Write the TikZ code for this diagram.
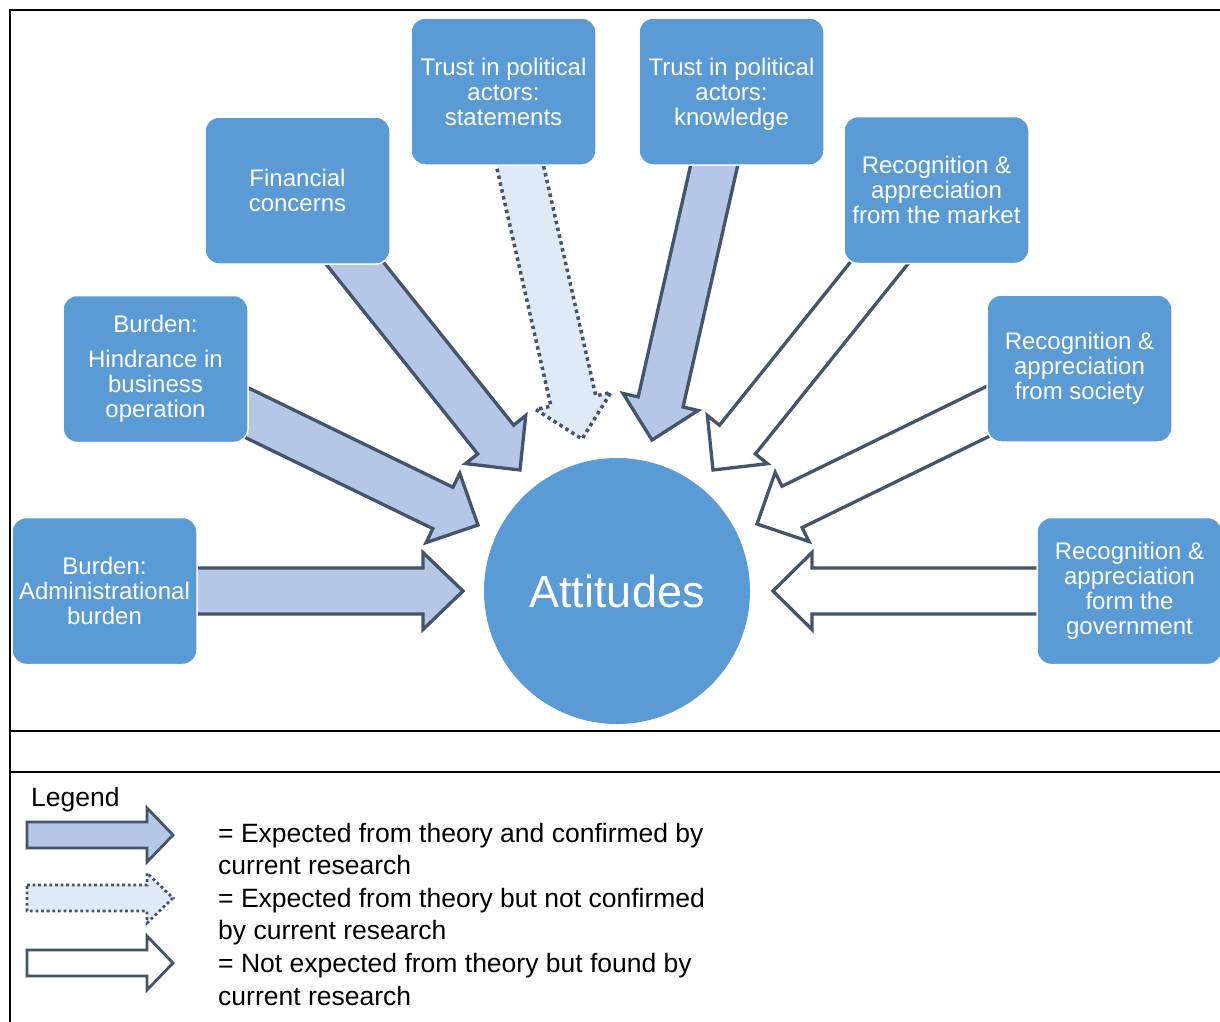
\documentclass[tikz,border=0pt]{standalone}
\usepackage{fontspec}
\setmainfont{Liberation Sans}
\usetikzlibrary{calc}

\definecolor{boxblue}{HTML}{5B9BD5}
\definecolor{arrowfill}{HTML}{B4C7E7}
\definecolor{dotfill}{HTML}{DEEBF7}
\definecolor{arrowline}{HTML}{44546A}

% block arrow: [style]{from}{to}{shaft half-width}{head half-width}{head length}
\newcommand\blockarrow[6][]{%
  \draw[#1] ($(#2)!#4!90:(#3)$)
    -- ($(#3)!#6!(#2)!#4!90:(#3)$)
    -- ($(#3)!#6!(#2)!#5!90:(#3)$)
    -- (#3)
    -- ($(#3)!#6!(#2)!#5!-90:(#3)$)
    -- ($(#3)!#6!(#2)!#4!-90:(#3)$)
    -- ($(#2)!#4!-90:(#3)$) -- cycle;}

\tikzset{
  factor/.style={draw=white, line width=1.5pt, fill=boxblue, rounded corners=14pt,
    minimum width=185pt, minimum height=147pt, align=center, text=white,
    font=\fontsize{24}{25}\selectfont, inner sep=0pt},
  core/.style={circle, fill=boxblue, minimum size=266pt, inner sep=0pt, text=white,
    font=\fontsize{45}{50}\selectfont},
  confirmed/.style={fill=arrowfill, draw=arrowline, line width=3.3pt, line join=miter},
  unconfirmed/.style={fill=dotfill, draw=arrowline, line width=3.5pt, dash pattern=on 3.5pt off 3.5pt},
  unexpected/.style={fill=white, draw=arrowline, line width=3.3pt, line join=miter},
  legtext/.style={anchor=base west, inner sep=0pt, font=\fontsize{26.5}{33}\selectfont}
}

\begin{document}
\begin{tikzpicture}[x=1pt, y=-1pt]
\useasboundingbox (0,0) rectangle (1220,1021);
\fill[white] (0,0) rectangle (1220,1021);

% frame
\draw[line width=2pt] (1235,10) -- (10,10) -- (10,731) -- (1235,731);
\draw[line width=1.3pt] (10,731) -- (10,1030);
\draw[line width=1.3pt] (10,772) -- (1235,772);

% arrow end points
\coordinate (a1s) at (190,591);     \coordinate (a1t) at (463,591);
\coordinate (a2s) at (231,405);     \coordinate (a2t) at (478,525);
\coordinate (a3s) at (341,246);     \coordinate (a3t) at (520,470);
\coordinate (a4s) at (515,144);     \coordinate (a4t) at (582,439);
\coordinate (a5s) at (719,144);     \coordinate (a5t) at (652,440);
\coordinate (a6s) at (892,247);     \coordinate (a6t) at (713,470);
\coordinate (a7s) at (1006,402.5);  \coordinate (a7t) at (757,524);
\coordinate (a8s) at (1055,591);    \coordinate (a8t) at (773,591);

% arrows towards the centre
\blockarrow[confirmed]{a1s}{a1t}{23pt}{38.5pt}{40pt}
\blockarrow[confirmed]{a2s}{a2t}{23pt}{38.5pt}{39pt}
\blockarrow[confirmed]{a3s}{a3t}{23pt}{38.5pt}{39pt}
\blockarrow[unconfirmed]{a4s}{a4t}{23pt}{38.5pt}{39pt}
\blockarrow[confirmed]{a5s}{a5t}{23pt}{38.5pt}{39pt}
\blockarrow[unexpected]{a6s}{a6t}{23pt}{38.5pt}{39pt}
\blockarrow[unexpected]{a7s}{a7t}{23pt}{38.5pt}{39pt}
\blockarrow[unexpected]{a8s}{a8t}{23pt}{38.5pt}{39pt}

% factor boxes
\node[factor] (admin) at (104.5,591) {Burden:\\Administrational\\burden};
\node[factor] (hind) at (155.5,369) {Burden:\\[10pt]Hindrance in\\business\\operation};
\node[factor] (fin) at (297.5,190.5) {Financial\\concerns};
\node[factor] (stat) at (503.5,91.5) {Trust in political\\actors:\\statements};
\node[factor, text depth=0pt] (know) at (731.5,91.5) {Trust in political\\actors:\\knowledge};
\node[factor] (market) at (936.5,190) {Recognition \&\\appreciation\\from the market};
\node[factor] (society) at (1079.5,368.5) {Recognition \&\\appreciation\\from society};
\node[factor] (govt) at (1129.5,591) {Recognition \&\\appreciation\\form the\\government};

% centre
\node[core] (att) at (617,591) {Attitudes};

% legend
\node[legtext] (legtitle) at (31,806) {Legend};
\coordinate (l1s) at (27,835);  \coordinate (l1t) at (173,835);
\coordinate (l2s) at (27,898);  \coordinate (l2t) at (173,898);
\coordinate (l3s) at (27,963);  \coordinate (l3t) at (173,963);
\blockarrow[confirmed, line width=2.8pt]{l1s}{l1t}{13pt}{27pt}{26pt}
\blockarrow[unconfirmed, line width=2.8pt, dash pattern=on 2.8pt off 2.8pt]{l2s}{l2t}{13pt}{25pt}{26pt}
\blockarrow[unexpected, line width=2.8pt]{l3s}{l3t}{13pt}{27pt}{26pt}

\node[legtext] (t1a) at (218,842) {= Expected from theory and confirmed by};
\node[legtext] (t1b) at (218,874.6) {current research};
\node[legtext] (t2a) at (218,907.2) {= Expected from theory but not confirmed};
\node[legtext] (t2b) at (218,939.8) {by current research};
\node[legtext] (t3a) at (218,972.4) {= Not expected from theory but found by};
\node[legtext] (t3b) at (218,1005) {current research};
\end{tikzpicture}
\end{document}
